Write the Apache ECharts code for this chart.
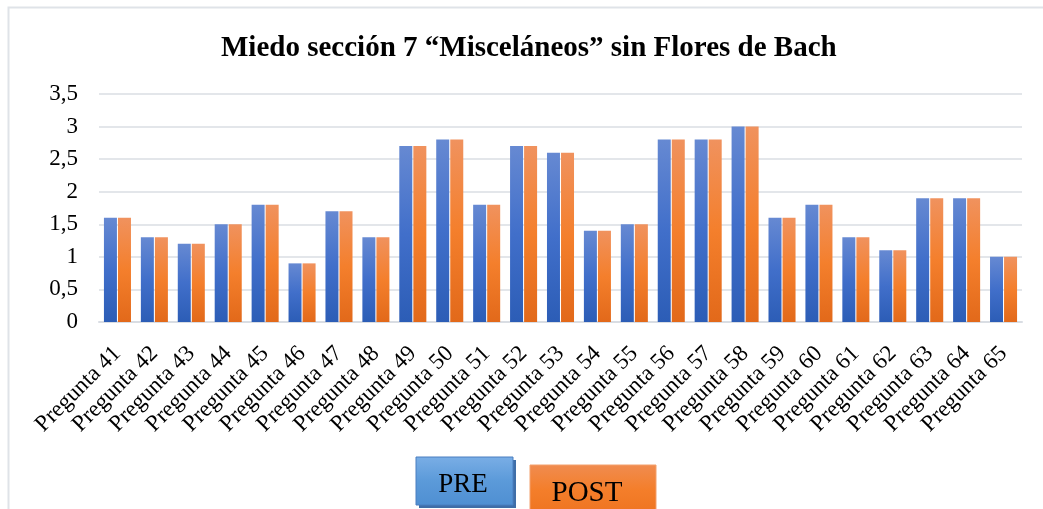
<!DOCTYPE html>
<html>
<head>
<meta charset="utf-8">
<script src="https://cdn.jsdelivr.net/npm/echarts@6/dist/echarts.min.js"></script>
<style>html,body{margin:0;padding:0;background:#fff}#c{width:1043px;height:509px}</style>
</head>
<body>
<div id="c"></div>
<script>
var titleText = 'Miedo sección 7 “Misceláneos” sin Flores de Bach';
var categories = ['Pregunta 41','Pregunta 42','Pregunta 43','Pregunta 44','Pregunta 45','Pregunta 46','Pregunta 47','Pregunta 48','Pregunta 49','Pregunta 50','Pregunta 51','Pregunta 52','Pregunta 53','Pregunta 54','Pregunta 55','Pregunta 56','Pregunta 57','Pregunta 58','Pregunta 59','Pregunta 60','Pregunta 61','Pregunta 62','Pregunta 63','Pregunta 64','Pregunta 65'];
var seriesNames = ['PRE', 'POST'];
var preValues  = [1.6,1.3,1.2,1.5,1.8,0.9,1.7,1.3,2.7,2.8,1.8,2.7,2.6,1.4,1.5,2.8,2.8,3.0,1.6,1.8,1.3,1.1,1.9,1.9,1.0];
var postValues = [1.6,1.3,1.2,1.5,1.8,0.9,1.7,1.3,2.7,2.8,1.8,2.7,2.6,1.4,1.5,2.8,2.8,3.0,1.6,1.8,1.3,1.1,1.9,1.9,1.0];

var serif = '"Liberation Serif", "DejaVu Serif", serif';
function grad(top, mid, bot) {
  return new echarts.graphic.LinearGradient(0, 0, 0, 1, [
    {offset: 0, color: top}, {offset: 0.5, color: mid}, {offset: 1, color: bot}
  ]);
}
var chart = echarts.init(document.getElementById('c'));
chart.setOption({
  animation: false,
  title: {
    text: titleText, left: 216, top: 29,
    textStyle: {fontFamily: serif, fontWeight: 'bold', fontSize: 29, color: '#000'}
  },
  grid: {left: 99, right: 21, top: 94, bottom: 187},
  xAxis: {
    type: 'category', data: categories,
    axisLine: {show: true, lineStyle: {color: '#d9dde3', width: 2}},
    axisTick: {show: false},
    axisLabel: {rotate: 45, interval: 0, fontFamily: serif, fontSize: 23, color: '#000', margin: 28}
  },
  yAxis: {
    type: 'value', min: 0, max: 3.5, interval: 0.5,
    axisLine: {show: false}, axisTick: {show: false},
    splitLine: {lineStyle: {color: '#e3e6ea', width: 2}},
    axisLabel: {fontFamily: serif, fontSize: 23, color: '#000', margin: 21,
      formatter: function (v) { return String(v).replace('.', ','); }}
  },
  series: [
    {name: seriesNames[0], type: 'bar', data: preValues, barWidth: 13, barGap: '8%',
     itemStyle: {color: grad('#6689d2', '#416fca', '#2c5db6')}},
    {name: seriesNames[1], type: 'bar', data: postValues, barWidth: 13,
     itemStyle: {color: grad('#f0925e', '#f47f2c', '#e2691a')}}
  ],
  graphic: [
    {type: 'rect', shape: {x: 8.5, y: 7.5, width: 1100, height: 600},
     style: {fill: 'none', stroke: '#dfe3e8', lineWidth: 2}, silent: true},
    {type: 'rect', shape: {x: 419, y: 460, width: 97, height: 48},
     style: {fill: '#3f6ea8'}},
    {type: 'rect', shape: {x: 416, y: 457, width: 97, height: 48},
     style: {fill: new echarts.graphic.LinearGradient(0, 0, 0, 1, [
       {offset: 0, color: '#7aaee6'}, {offset: 0.5, color: '#5b9ad9'}, {offset: 1, color: '#4f8fd2'}]),
       stroke: '#4a7fc0', lineWidth: 1}},
    {type: 'text', x: 463, y: 485, style: {text: seriesNames[0], font: '27px ' + serif,
      fill: '#000', align: 'center', verticalAlign: 'middle'}},
    {type: 'rect', shape: {x: 530, y: 465, width: 126, height: 50},
     style: {fill: new echarts.graphic.LinearGradient(0, 0, 0, 1, [
       {offset: 0, color: '#f08c50'}, {offset: 0.5, color: '#f47e2a'}, {offset: 1, color: '#ee7320'}]),
       stroke: '#f3a06c', lineWidth: 1}},
    {type: 'text', x: 587, y: 493, style: {text: seriesNames[1], font: '29px ' + serif,
      fill: '#000', align: 'center', verticalAlign: 'middle'}}
  ]
});
</script>
</body>
</html>
